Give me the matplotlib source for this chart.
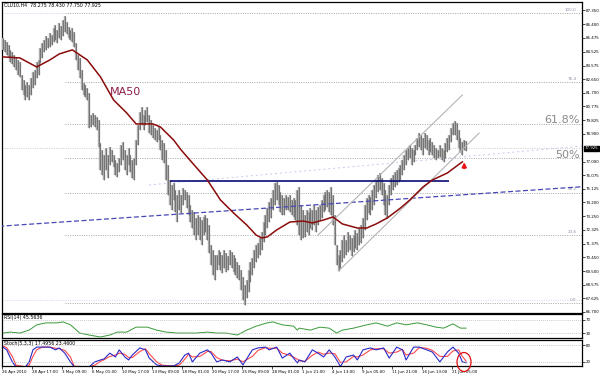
import matplotlib
matplotlib.use("Agg")
import matplotlib.pyplot as plt
import matplotlib.transforms as mtransforms
from matplotlib.patches import Ellipse

# ---------------- data ----------------
title_text = "CLU10,H4  78.275 78.430 77.750 77.925"
last_price = 77.925

highs = [85.47,85.33,85.19,84.99,84.65,84.51,84.30,84.17,83.96,83.82,
         82.93,82.59,82.25,82.45,82.25,82.73,83.14,83.28,83.82,83.96,
         84.78,85.12,85.33,85.60,85.47,85.81,85.67,86.15,86.36,86.02,
         86.50,86.29,86.70,86.97,86.56,86.22,86.02,86.15,85.88,85.12,
         84.30,84.10,83.28,82.38,82.25,82.04,81.70,80.19,80.33,80.19,
         80.06,79.85,78.27,77.80,77.45,77.93,77.45,78.00,77.80,77.45,
         77.11,76.91,77.25,78.14,78.34,77.80,77.45,77.93,77.45,77.11,
         77.25,78.48,79.51,80.40,80.74,80.19,80.54,80.74,80.19,79.85,
         79.51,79.30,79.17,79.37,78.82,78.48,78.27,77.80,76.77,75.74,
         75.40,75.54,75.06,74.71,75.06,74.71,75.19,75.06,74.92,74.71,
         74.03,73.69,73.55,73.14,73.34,73.21,73.00,73.21,73.34,73.14,
         72.66,71.29,70.95,70.60,70.60,70.95,70.81,70.60,70.95,70.74,
         70.53,70.95,70.81,70.60,70.40,70.12,69.92,69.58,69.10,68.55,
         68.89,69.58,70.12,70.40,70.95,71.29,71.43,71.77,72.18,72.86,
         73.34,73.82,74.23,74.51,75.06,75.54,75.60,75.40,74.92,74.71,
         74.51,74.71,74.58,74.71,74.37,74.51,74.37,75.06,75.26,74.03,
         73.69,73.34,73.69,73.55,73.82,73.69,74.03,73.69,73.89,74.03,
         74.37,74.71,74.92,75.06,74.92,75.26,74.71,73.34,71.29,70.60,
         70.95,71.63,71.97,71.63,72.18,71.97,71.77,71.97,72.32,72.12,
         72.45,72.66,73.14,74.03,74.51,74.71,74.58,75.06,75.40,75.74,
         76.08,76.22,75.88,75.54,75.06,74.71,75.40,75.88,76.08,76.29,
         76.43,76.56,76.77,77.11,77.45,77.80,77.93,78.14,77.93,77.80,
         78.14,78.62,78.96,78.82,78.62,78.96,78.82,78.48,78.62,78.34,
         78.14,77.93,77.80,78.14,77.93,77.80,78.27,78.62,78.82,79.30,
         79.64,79.78,79.64,79.17,78.62,78.34,78.48,78.43]

lows = [84.65,84.51,84.30,84.17,83.82,83.69,83.48,83.28,82.93,82.80,
        81.91,81.56,81.22,81.43,81.22,81.56,82.04,82.25,82.73,82.93,
        83.75,84.10,84.51,84.65,84.78,84.85,84.99,85.19,85.33,85.12,
        85.47,85.33,85.60,85.88,85.74,85.47,85.33,85.19,84.85,83.96,
        83.28,82.73,81.91,81.56,81.43,81.22,79.30,79.37,79.51,79.37,
        79.17,78.00,76.43,76.08,75.74,76.43,75.88,76.77,76.97,76.63,
        76.08,75.95,76.29,76.77,77.11,76.43,76.08,76.77,76.29,75.88,
        75.74,76.77,78.14,79.17,79.51,79.17,79.51,79.71,78.96,78.82,
        78.62,78.48,78.34,78.48,77.80,77.11,76.91,75.74,74.71,74.03,
        73.69,74.37,73.55,72.86,73.69,73.48,74.03,74.37,73.82,73.34,
        72.86,72.45,71.97,71.63,71.97,71.63,71.29,71.97,72.18,71.63,
        70.74,69.92,69.23,68.89,69.58,69.92,69.58,69.37,69.71,69.44,
        69.58,69.92,69.71,69.44,69.23,69.03,68.89,68.21,67.52,67.18,
        67.66,68.07,68.75,69.23,69.71,70.12,70.40,70.60,70.95,71.49,
        71.97,72.45,72.86,73.14,73.69,74.03,74.37,74.03,73.55,73.34,
        73.34,73.69,73.69,73.55,73.34,73.21,73.00,72.66,71.97,71.63,
        71.77,71.84,72.18,71.97,72.45,72.32,72.66,72.18,72.66,73.00,
        73.14,73.55,73.69,73.89,73.55,73.34,72.66,71.29,69.92,69.51,
        69.71,70.12,70.40,70.60,70.81,70.95,70.53,70.81,71.08,70.95,
        71.29,71.43,71.77,72.32,73.00,73.48,73.34,73.69,74.03,74.51,
        74.92,75.06,74.71,74.03,73.34,73.14,74.03,74.71,75.06,75.26,
        75.40,75.60,75.74,76.08,76.43,76.77,77.11,77.25,76.77,76.97,
        77.45,77.80,78.00,77.80,77.45,77.93,77.80,77.45,77.66,77.45,
        77.25,77.11,77.25,77.32,77.11,76.97,77.25,77.66,77.80,78.34,
        78.82,78.82,78.48,77.93,77.66,77.45,77.80,77.75]

ma_bar = [0,9,18,25,30,37,45,52,59,66,71,80,84,91,95,101,109,116,123,130,
          135,138,141,146,153,160,165,171,176,181,189,194,199,205,212,217,224,229,237,242,245]
ma_val = [84.17,84.10,83.48,83.96,84.37,84.65,83.96,82.80,81.22,80.33,79.58,79.58,79.37,78.48,
          77.80,76.91,75.74,74.37,73.48,72.66,71.97,71.77,71.84,72.32,72.86,72.93,72.80,73.00,
          73.21,72.73,72.45,72.45,72.73,73.14,73.82,74.37,75.26,75.74,76.22,76.70,76.98]

fib_high = 87.15
fib_low = 67.30
fib_pcts = [0.0, 23.6, 38.2, 50.0, 61.8, 76.4, 100.0]
fib_start_bar = 33

resist_level = 75.67
resist_bars = [89, 238]
trend_bars = [-2, 309]
trend_vals = [72.57, 75.28]
trend2_bars = [78, 309]
trend2_vals = [75.40, 78.07]
chan_up_bars = [168, 245]
chan_up_vals = [71.97, 81.56]
chan_lo_bars = [179, 254]
chan_lo_vals = [69.51, 78.96]

rsi_label = "RSI(14) 45.5636"
rsi_bar = [0,4,9,14,18,23,29,32,36,41,46,52,57,61,66,71,77,82,87,93,98,103,109,114,119,125,130,
           135,141,144,149,155,157,158,164,169,174,178,181,187,194,199,205,210,215,221,226,231,235,240,244,247]
rsi_val = [30,33,30,39,55,61,61,64,55,30,24,18,24,33,33,48,48,39,33,30,30,30,33,30,30,24,39,
           51,61,64,55,51,39,45,39,48,45,30,39,45,55,61,51,61,55,61,55,48,45,58,45,45]

stoch_label = "Stoch(5,3,3) 17.4956 23.4600"
st_bar = [0,2,5,7,12,14,16,18,21,25,28,30,33,36,38,46,49,52,54,57,
          60,62,65,67,69,73,76,78,82,85,91,94,97,99,101,105,109,111,114,117,
          121,125,128,133,136,140,142,146,149,153,157,158,161,165,168,171,174,177,180,183,
          187,189,192,196,199,203,206,210,213,215,219,222,226,229,233,237,240,243,245,247]
st_main = [74,64,20,2,2,20,64,74,74,74, 64,71,52,20,2,2,20,27,31,52,
           38,64,38,27,45,71,64,34,9,5, 5,16,45,52,20,52,64,52,20,27,
           20,38,9,64,71,74,64,74,34,52, 16,27,20,64,52,38,64,38,3,38,
           45,27,64,71,64,71,34,74,64,27, 74,74,64,56,20,56,74,52,20,17]
st_sig = [78,72,40,8,2,8,40,64,74,74, 70,68,62,38,4,2,8,22,28,40,
          45,52,48,36,36,58,68,50,20,8, 5,8,30,48,38,40,58,58,36,26,
          24,30,20,40,62,72,70,70,52,44, 30,24,22,44,56,48,52,50,18,20,
          40,38,45,64,68,68,52,56,66,45, 52,72,70,62,40,40,60,64,40,23]

price_ticks = [66.700,67.625,68.575,69.500,70.450,71.375,72.325,73.250,74.200,75.125,76.075,
               77.000,78.900,79.825,80.775,81.700,82.650,83.575,84.525,85.475,86.400,87.350]
date_labels = ["26 Apr 2010","28 Apr 17:00","3 May 09:00","6 May 01:00","10 May 17:00",
               "13 May 09:00","18 May 01:00","20 May 17:00","25 May 09:00","28 May 01:00",
               "1 Jun 21:00","4 Jun 13:00","9 Jun 05:00","11 Jun 21:00","16 Jun 13:00","21 Jun 05:00"]
date_step = 16

# ---------------- figure ----------------
W, H = 600, 376
fig = plt.figure(figsize=(6, 3.76), dpi=100)
fig.patch.set_facecolor("white")

def fbox(l, t, r, b):
    return [l / W, (H - b) / H, (r - l) / W, (b - t) / H]

ax = fig.add_axes(fbox(2, 2, 582, 313))
ax_r = fig.add_axes(fbox(2, 314, 582, 338), sharex=ax)
ax_s = fig.add_axes(fbox(2, 340, 582, 366), sharex=ax)

XL = (-0.5, 308.8)
dot = (0, (1.2, 1.6))
tick_fs = 2.9

bars = list(range(len(highs)))

# fib and reference lines
rng = fib_high - fib_low
for p in fib_pcts:
    lv = fib_low + rng * p / 100.0
    ax.hlines(lv, fib_start_bar, XL[1], colors="#9a9a9a", linestyles=dot, lw=0.6, zorder=1)
    if p not in (50.0, 61.8):
        ax.text(XL[1] - 3, lv + 0.08, "%.1f" % p, fontsize=3.0, color="#9090a8",
                ha="right", va="bottom", zorder=2)
ax.hlines(fib_high, XL[0], fib_start_bar, colors="#c8c8ee", linestyles=dot, lw=0.6, zorder=1)
ax.hlines(fib_low + 0.25, XL[0], XL[1], colors="#d0d0f0", linestyles=dot, lw=0.6, zorder=1)
ax.axhline(last_price, color="#c4c4c4", ls=dot, lw=0.6, zorder=1)
ax.plot(trend2_bars, trend2_vals, color="#c8c8f0", ls=(0, (2, 3)), lw=0.7, zorder=1)

# price bars
ax.vlines(bars, lows, highs, colors="#ababab", lw=1.7, zorder=3)
ax.vlines(bars, lows, highs, colors="#555555", lw=0.45, zorder=4)

# trend lines
ax.plot(trend_bars, trend_vals, color="#4848b8", ls=(0, (4, 2)), lw=0.9, zorder=5)
ax.hlines(resist_level, resist_bars[0], resist_bars[1], colors="#0a0a78", lw=1.2, zorder=6)
ax.plot(chan_up_bars, chan_up_vals, color="#b4b4b4", lw=0.8, zorder=5)
ax.plot(chan_lo_bars, chan_lo_vals, color="#b4b4b4", lw=0.8, zorder=5)

# MA50
ax.plot(ma_bar, ma_val, color="#8b0b0b", lw=1.1, zorder=7)
ax.text(65.5, 81.78, "MA50", fontsize=8, color="#8c1c4c", ha="center", va="center", zorder=8)

# percent labels
ax.text(XL[1] - 1, 79.85, "61.8%", fontsize=8, color="#8a8a8a", ha="right", va="center", zorder=8)
ax.text(XL[1] - 1, 77.45, "50%", fontsize=8, color="#8a8a8a", ha="right", va="center", zorder=8)

# red arrow
ax.annotate("", xy=(246, 77.15), xytext=(246, 76.35),
            arrowprops=dict(arrowstyle="-|>", color="#ee1111", lw=1.4, mutation_scale=6), zorder=9)

ax.set_xlim(*XL)
ax.set_ylim(66.63, 87.93)
ax.yaxis.tick_right()
ax.set_yticks(price_ticks)
ax.set_yticklabels(["%.3f" % v for v in price_ticks])
ax.tick_params(axis="y", labelsize=tick_fs, length=2, width=0.5, pad=0.8)
ax.tick_params(axis="x", bottom=False, labelbottom=False)
trans = mtransforms.blended_transform_factory(ax.transAxes, ax.transData)
ax.text(1.004, last_price, "%.3f" % last_price, transform=trans, fontsize=tick_fs, color="white",
        ha="left", va="center", zorder=10,
        bbox=dict(boxstyle="square,pad=0.12", fc="black", ec="black"))
ax.text(0.003, 0.997, title_text, transform=ax.transAxes, fontsize=3.4, color="black",
        ha="left", va="top")

# RSI
ax_r.plot(rsi_bar, rsi_val, color="#3a9a3a", lw=0.7)
for lv in (70, 30):
    ax_r.axhline(lv, color="#b0b0b0", ls=dot, lw=0.5)
ax_r.set_ylim(15, 88)
ax_r.yaxis.tick_right()
ax_r.set_yticks([70, 30])
ax_r.set_yticklabels(["70", "30"])
ax_r.tick_params(axis="y", labelsize=tick_fs, length=2, width=0.5, pad=0.8)
ax_r.tick_params(axis="x", bottom=False, labelbottom=False)
ax_r.text(0.003, 0.96, rsi_label, transform=ax_r.transAxes, fontsize=3.4, ha="left", va="top")

# Stochastic
ax_s.plot(st_bar, st_sig, color="#ff4a4a", lw=0.8)
ax_s.plot(st_bar, st_main, color="#2828c8", lw=0.8)
for lv in (80, 20):
    ax_s.axhline(lv, color="#b0b0b0", ls=dot, lw=0.5)
ax_s.set_ylim(5, 100)
ax_s.yaxis.tick_right()
ax_s.set_yticks([80, 20])
ax_s.set_yticklabels(["80", "20"])
ax_s.tick_params(axis="y", labelsize=tick_fs, length=2, width=0.5, pad=0.8)
ax_s.text(0.003, 0.97, stoch_label, transform=ax_s.transAxes, fontsize=3.4, ha="left", va="top")
xt = [i * date_step - 0.5 for i in range(len(date_labels))]
ax_s.set_xticks(xt)
ax_s.set_xticklabels(date_labels, ha="left")
ax_s.tick_params(axis="x", labelsize=tick_fs, length=2, width=0.5, pad=1)
ax_s.set_xlim(*XL)

# red ellipse on stochastic
ell = Ellipse((464 / W, (H - 362) / H), 14 / W, 19 / H, transform=fig.transFigure,
              fill=False, ec="#e01010", lw=0.9, zorder=20)
fig.add_artist(ell)

for a in (ax, ax_r, ax_s):
    for s in a.spines.values():
        s.set_linewidth(0.9)
        s.set_color("black")

fig.savefig("out.png", dpi=100, facecolor="white")
